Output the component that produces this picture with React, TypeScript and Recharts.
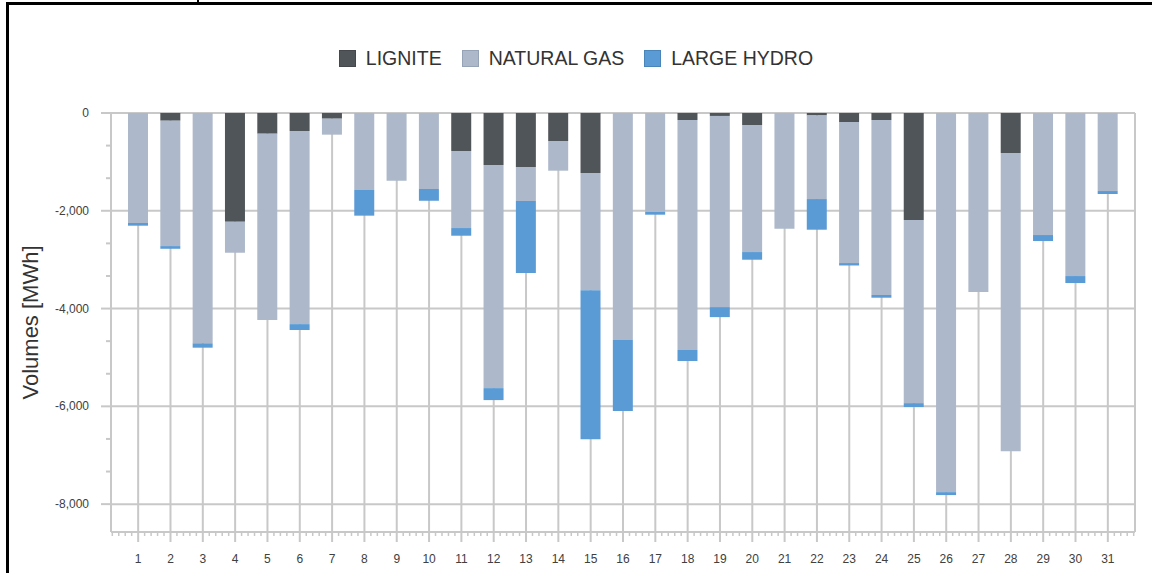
import { BarChart, Bar, XAxis, YAxis, CartesianGrid } from 'recharts'

// daily volumes, MWh (negative = reduction)
const days = [
  '1', '2', '3', '4', '5', '6', '7', '8', '9', '10', '11', '12', '13', '14', '15', '16',
  '17', '18', '19', '20', '21', '22', '23', '24', '25', '26', '27', '28', '29', '30', '31',
]
const lignite = [
  0, -157, 0, -2224, -423, -368, -116, 0, 0, 0, -777, -1064, -1105, -573, -1228, 0,
  0, -143, -60, -246, 0, -50, -184, -143, -2189, 0, 0, -818, 0, 0, 0,
]
const naturalGas = [
  -2250, -2565, -4710, -634, -3810, -3950, -327, -1575, -1385, -1555, -1576, -4563, -695, -607, -2395, -4645,
  -2025, -4705, -3910, -2598, -2367, -1710, -2885, -3580, -3745, -7755, -3662, -6100, -2496, -3335, -1596,
]
const largeHydro = [
  -55, -55, -90, 0, 0, -120, 0, -525, 0, -240, -157, -245, -1475, 0, -3050, -1450,
  -55, -225, -205, -157, 0, -627, -50, -55, -80, -60, 0, 0, -123, -143, -61,
]
const yMajorTicks = [0, -2000, -4000, -6000, -8000]

const series = [
  { key: 'lignite', name: 'LIGNITE', color: '#50555a', border: '#44484c' },
  { key: 'gas', name: 'NATURAL GAS', color: '#adb8ca', border: '#96a2b6' },
  { key: 'hydro', name: 'LARGE HYDRO', color: '#5b9bd5', border: '#4a85ba' },
]

const data = days.map((d, i) => ({
  day: d,
  lignite: lignite[i],
  gas: naturalGas[i],
  hydro: largeHydro[i],
}))

// minor ticks at thirds between the major ones
const yTicks: number[] = []
yMajorTicks.forEach((v, i) => {
  yTicks.push(v)
  if (i < yMajorTicks.length - 1) {
    const step = (yMajorTicks[i + 1] - v) / 3
    yTicks.push(v + step, v + 2 * step)
  }
})

const W = 1152
const H = 575
const GRID = '#c8c8c8'
const FONT = '"Liberation Sans", Arial, sans-serif'
const plotLeft = 111
const plotRight = 1135
const xPad = 11
const band = (plotRight - plotLeft - 2 * xPad) / days.length

function YTick(props: any) {
  const { x, y, payload } = props
  const major = yMajorTicks.includes(payload.value)
  return (
    <g>
      <line x1={x - (major ? 10 : 5)} x2={x} y1={y} y2={y} stroke={GRID} strokeWidth={2} />
      {major && (
        <text x={x - 22} y={y} dy={4} textAnchor="end" fontSize={12} fontFamily={FONT} fill="#404040">
          {payload.value.toLocaleString('en-US')}
        </text>
      )}
    </g>
  )
}

function XTick(props: any) {
  const { x, y, payload, index } = props
  const minor: number[] = [1, 2, 3, 4]
  if (index === 0) minor.push(-1, -2, -3, -4)
  return (
    <g>
      <line x1={x} x2={x} y1={y} y2={y + 10} stroke={GRID} strokeWidth={2} />
      {minor.map((k) => (
        <line key={k} x1={x + (k * band) / 5} x2={x + (k * band) / 5} y1={y} y2={y + 4} stroke={GRID} strokeWidth={1.5} />
      ))}
      <text x={x} y={y + 31} textAnchor="middle" fontSize={12} fontFamily={FONT} fill="#404040">
        {payload.value}
      </text>
    </g>
  )
}

function YLabel(props: any) {
  const { viewBox } = props
  const cy = viewBox.y + viewBox.height / 2
  return (
    <text x={30} y={cy} transform={`rotate(-90 30 ${cy})`} textAnchor="middle" dominantBaseline="central"
      fontSize={22} fontFamily={FONT} fill="#333">
      Volumes [MWh]
    </text>
  )
}

function ChartLegend() {
  return (
    <div style={{
      position: 'absolute', top: 50, left: 0, width: W, display: 'flex', justifyContent: 'center',
      gap: 20, fontFamily: FONT, fontSize: 19.5, color: '#333', lineHeight: '17px',
    }}>
      {series.map((s) => (
        <div key={s.key} style={{ display: 'flex', alignItems: 'center', gap: 10 }}>
          <span style={{ width: 15, height: 15, background: s.color, border: `1px solid ${s.border}`, display: 'inline-block' }} />
          <span>{s.name}</span>
        </div>
      ))}
    </div>
  )
}

export default function App() {
  return (
    <div style={{ position: 'absolute', left: 0, top: 0, width: W, height: H, background: '#fff' }}>
      {/* frame of the original screenshot */}
      <div style={{ position: 'absolute', left: 6, top: 2, width: W - 6, height: 3, background: '#000' }} />
      <div style={{ position: 'absolute', left: 6, top: 2, width: 3, height: 571, background: '#000' }} />
      <div style={{ position: 'absolute', left: 197, top: 0, width: 2, height: 3, background: '#000' }} />
      <ChartLegend />
      <div style={{ position: 'absolute', left: 0, top: 0 }}>
        <BarChart width={W} height={H} data={data} margin={{ top: 113, right: 16, bottom: 0, left: 0 }}>
          <CartesianGrid stroke={GRID} strokeWidth={2} horizontalValues={yMajorTicks} />
          <XAxis
            dataKey="day"
            height={43}
            padding={{ left: xPad, right: xPad }}
            axisLine={{ stroke: GRID, strokeWidth: 2 }}
            tickLine={false}
            tickSize={0}
            tickMargin={0}
            tick={<XTick />}
            interval={0}
          />
          <YAxis
            width={plotLeft}
            domain={[-8570, 0]}
            ticks={yTicks}
            interval={0}
            allowDataOverflow
            axisLine={{ stroke: GRID, strokeWidth: 2 }}
            tickLine={false}
            tickSize={0}
            tickMargin={0}
            tick={<YTick />}
            label={<YLabel />}
          />
          <YAxis
            yAxisId="r"
            orientation="right"
            width={1}
            domain={[-8570, 0]}
            tick={false}
            tickLine={false}
            axisLine={{ stroke: GRID, strokeWidth: 2 }}
          />
          {series.map((s) => (
            <Bar key={s.key} dataKey={s.key} name={s.name} stackId="a" fill={s.color} barSize={20} isAnimationActive={false} />
          ))}
        </BarChart>
      </div>
    </div>
  )
}
